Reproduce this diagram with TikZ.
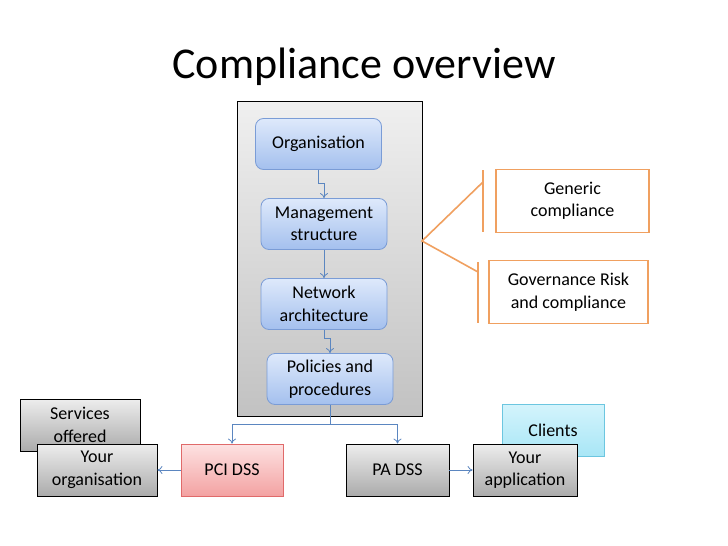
\documentclass[tikz,border=0pt]{standalone}
\usepackage{fontspec}
\setmainfont{Carlito}
\usetikzlibrary{arrows.meta}
\definecolor{bluetop}{HTML}{DEE9FB}
\definecolor{bluebot}{HTML}{A4C0EE}
\definecolor{blueedge}{HTML}{7A9CD6}
\definecolor{conncol}{HTML}{5B86C0}
\definecolor{orangec}{HTML}{F0A060}
\definecolor{pinktop}{HTML}{FDE2E2}
\definecolor{pinkbot}{HTML}{F3A2A2}
\definecolor{pinkedge}{HTML}{E06A6A}
\definecolor{cyantop}{HTML}{D4F4FC}
\definecolor{cyanbot}{HTML}{A8E6F6}
\definecolor{cyanedge}{HTML}{6CC6E0}
\tikzset{
  x=1pt, y=1pt,
  boxtext/.style={font=\fontsize{18}{22.5}\selectfont, align=center, inner sep=0pt},
  bluebox/.style={boxtext, draw=blueedge, line width=0.8pt, rounded corners=8pt,
    top color=bluetop, bottom color=bluebot, minimum width=126, minimum height=51},
  graybox/.style={boxtext, draw=black, line width=0.8pt, top color=black!7, bottom color=black!33,
    minimum width=120, minimum height=52},
  pinkbox/.style={boxtext, draw=pinkedge, line width=0.8pt, top color=pinktop, bottom color=pinkbot,
    minimum width=102, minimum height=52},
  cyanbox/.style={boxtext, draw=cyanedge, line width=0.8pt, top color=cyantop, bottom color=cyanbot,
    minimum width=102, minimum height=52},
  orangebox/.style={boxtext, draw=orangec, line width=1.5pt, fill=white, minimum width=153, minimum height=63},
  conn/.style={draw=conncol, line width=0.8pt, -{To[length=5pt,width=8pt]}},
  oline/.style={draw=orangec, line width=1.6pt},
}
\begin{document}
\begin{tikzpicture}
\useasboundingbox[fill=white] (0,0) rectangle (728,-546);
\node[font=\fontsize{44}{50}\selectfont, inner sep=0pt] (title) at (364,-67) {Compliance overview};
% container
\node[draw=black, line width=0.8pt, top color=black!6, bottom color=black!24,
  minimum width=185, minimum height=315, inner sep=0pt] (cont) at (329.5,-258.5) {};
\node[bluebox] (org) at (318.5,-144) {Organisation};
\node[bluebox] (mgmt) at (324,-224) {Management\\structure};
\node[bluebox] (net) at (324,-304) {Network\\architecture};
\node[bluebox] (pol) at (330,-379) {Policies and\\procedures};
\draw[conn] (org.south) -- ++(0,-13) -| (mgmt.north);
\draw[conn] (mgmt.south) -- (net.north);
\draw[conn] (net.south) -- ++(0,-8) -| (pol.north);
% right side
\node[orangebox] (gen) at (572.5,-201) {Generic\\compliance};
\node[orangebox, minimum width=159] (gov) at (568.5,-292) {Governance Risk\\and compliance};
\coordinate (v) at (422,-241);
\coordinate (ga) at (483,-170);
\coordinate (gb) at (483,-232);
\coordinate (gm) at (483,-182);
\coordinate (ra) at (478,-262);
\coordinate (rb) at (478,-323);
\coordinate (rm) at (478,-272);
\draw[oline] (ga) -- (gb);
\draw[oline] (ra) -- (rb);
\draw[oline] (gm) -- (v) -- (rm);
% bottom
\node[graybox] (serv) at (80,-425) {Services\\offered};
\node[graybox] (yorg) at (97,-470) {Your\\organisation};
\node[pinkbox] (pci) at (232,-470) {PCI DSS};
\node[graybox, minimum width=103] (pa) at (397.5,-470) {PA DSS};
\node[cyanbox] (cli) at (553,-430) {Clients};
\node[graybox, minimum width=104] (app) at (525,-470) {Your\\application};
\draw[draw=conncol, line width=0.8pt] (pol.south) -- ++(0,-19) coordinate (j);
\draw[conn] (j) -| (pci.north);
\draw[conn] (j) -| (pa.north);
\draw[conn] (pci.west) -- (yorg.east);
\draw[conn] (pa.east) -- (app.west);
\end{tikzpicture}
\end{document}
